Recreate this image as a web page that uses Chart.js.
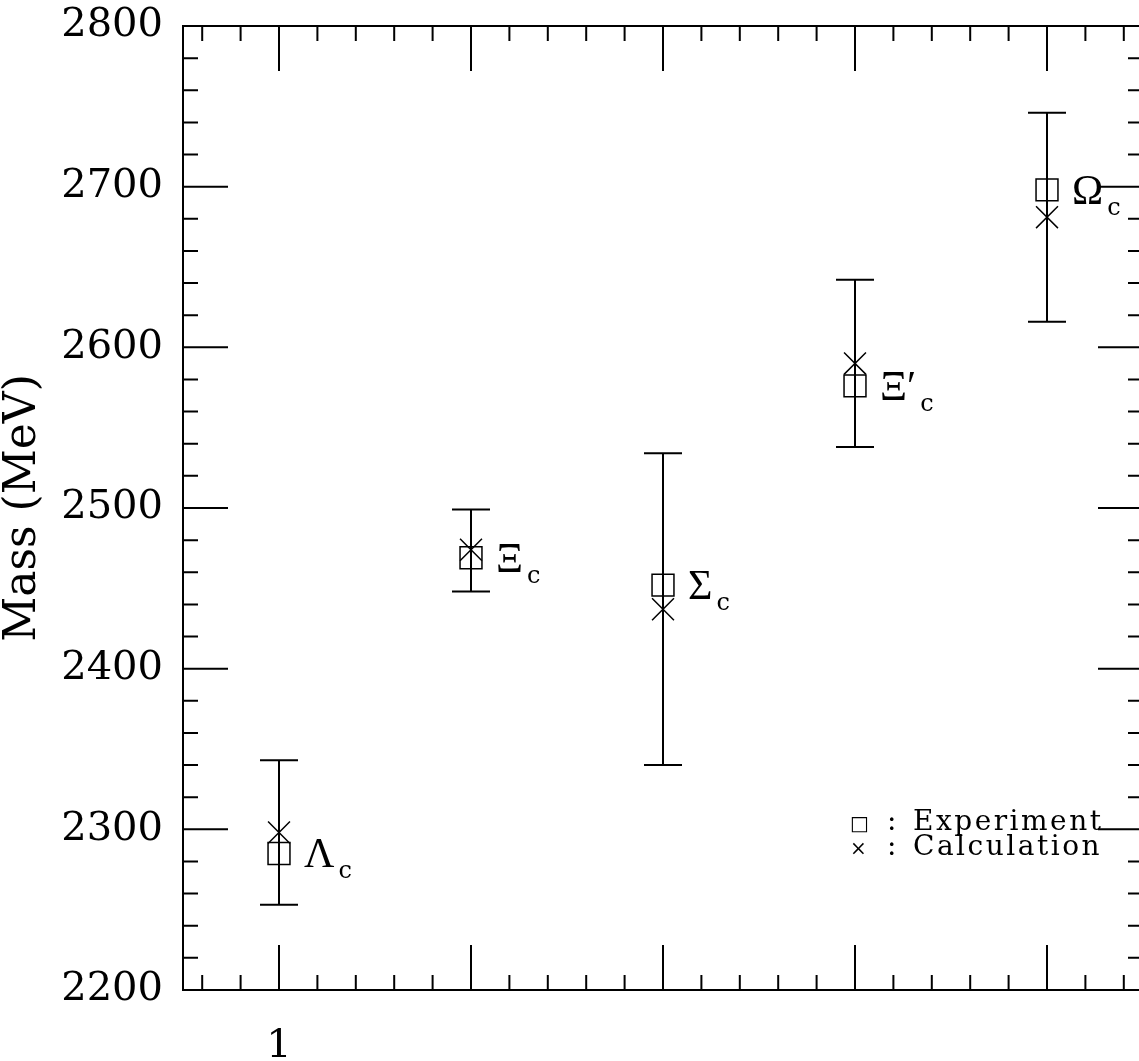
<!DOCTYPE html>
<html>
<head>
<meta charset="utf-8">
<script src="https://cdn.jsdelivr.net/npm/chart.js@4.4.1/dist/chart.umd.min.js"></script>
<style>
  html, body { margin: 0; padding: 0; background: #fff; overflow: hidden; }
  #wrap { position: relative; width: 1160px; height: 1061px; }
</style>
</head>
<body>
<div id="wrap"><canvas id="chart"></canvas></div>
<script>
// charmed baryons, x = position index
const positions = [1, 2, 3, 4, 5];
const particles = ['Λ', 'Ξ', 'Σ', 'Ξ′', 'Ω'];
const experiment = [2285, 2469, 2452, 2576, 2698];
const calculation = [2298, 2474, 2437, 2590, 2681];
const errLow = [2253, 2448, 2340, 2538, 2616];
const errHigh = [2343, 2499, 2534, 2642, 2746];
const xTickLabels = ['1', '', '', '', ''];
const legendItems = [['□', 'Experiment'], ['×', 'Calculation']];

const FONT = '"DejaVu Serif", "Liberation Serif", serif';
const GREEK = '"Liberation Serif", "DejaVu Serif", serif';

// frame with inward ticks on all four sides, plus error bars
const framePlugin = {
    id: 'frame',
    beforeDatasetsDraw(chart) {
        const { ctx, chartArea: a, scales: { x, y } } = chart;
        ctx.save();
        ctx.strokeStyle = '#000';
        ctx.lineWidth = 2;
        ctx.lineCap = 'butt';
        ctx.strokeRect(a.left, a.top, a.right - a.left, a.bottom - a.top);

        ctx.beginPath();
        // x ticks every 0.2, major at integers
        for (let k = 3; k <= 27; k++) {
            const px = x.getPixelForValue(k / 5);
            const len = k % 5 === 0 ? 45 : 15;
            ctx.moveTo(px, a.bottom); ctx.lineTo(px, a.bottom - len);
            ctx.moveTo(px, a.top); ctx.lineTo(px, a.top + len);
        }
        // y ticks every 20, major every 100
        for (let v = 2220; v < 2800; v += 20) {
            const py = y.getPixelForValue(v);
            const len = v % 100 === 0 ? 45 : 15;
            ctx.moveTo(a.left, py); ctx.lineTo(a.left + len, py);
            ctx.moveTo(a.right, py); ctx.lineTo(a.right - len, py);
        }
        ctx.stroke();

        // error bars on the calculation
        ctx.beginPath();
        positions.forEach((p, i) => {
            const px = x.getPixelForValue(p);
            const top = y.getPixelForValue(errHigh[i]);
            const bot = y.getPixelForValue(errLow[i]);
            ctx.moveTo(px, top); ctx.lineTo(px, bot);
            ctx.moveTo(px - 19, top); ctx.lineTo(px + 19, top);
            ctx.moveTo(px - 19, bot); ctx.lineTo(px + 19, bot);
        });
        ctx.stroke();
        ctx.restore();
    },
    afterDatasetsDraw(chart) {
        const { ctx, chartArea: a, scales: { x, y } } = chart;
        ctx.save();
        ctx.fillStyle = '#000';
        ctx.textAlign = 'left';
        ctx.textBaseline = 'alphabetic';
        particles.forEach((name, i) => {
            const px = x.getPixelForValue(positions[i]) + 25;
            const py = y.getPixelForValue(experiment[i]);
            ctx.font = '42px ' + GREEK;
            ctx.fillText(name, px, py + 14);
            const w = ctx.measureText(name).width;
            ctx.font = '24px ' + FONT;
            ctx.fillText('c', px + w + 4, py + 25);
        });

        // legend in the lower right
        legendItems.forEach(([sym, label], i) => {
            const by = a.top + 804 + i * 25;
            ctx.letterSpacing = '0px';
            ctx.font = '20px ' + FONT;
            ctx.fillText(sym, a.left + 667, by);
            ctx.font = '28px ' + FONT;
            ctx.fillText(':', a.left + 704, by);
            ctx.letterSpacing = '2.5px';
            ctx.fillText(label, a.left + 730, by);
        });
        ctx.restore();
    }
};

Chart.defaults.color = '#000';

new Chart(document.getElementById('chart'), {
    type: 'scatter',
    data: {
        datasets: [
            {
                label: 'Experiment',
                data: positions.map((p, i) => ({ x: p, y: experiment[i] })),
                pointStyle: 'rect',
                pointRadius: 15.5,
                borderColor: '#000',
                backgroundColor: 'rgba(0,0,0,0)',
                borderWidth: 1.5
            },
            {
                label: 'Calculation',
                data: positions.map((p, i) => ({ x: p, y: calculation[i] })),
                pointStyle: 'crossRot',
                pointRadius: 15.5,
                borderColor: '#000',
                backgroundColor: '#000',
                borderWidth: 1.5
            }
        ]
    },
    options: {
        responsive: true,
        maintainAspectRatio: false,
        animation: false,
        layout: { padding: { top: 26, right: 12, left: 0, bottom: 0 } },
        plugins: {
            legend: { display: false },
            tooltip: { enabled: false }
        },
        scales: {
            x: {
                type: 'linear',
                min: 0.5,
                max: 5.5,
                grid: { display: false },
                border: { display: false },
                afterBuildTicks: (scale) => { scale.ticks = positions.map(v => ({ value: v })); },
                afterFit: (scale) => { scale.height = 71; },
                ticks: {
                    autoSkip: false,
                    maxRotation: 0,
                    padding: 25,
                    font: { family: FONT, size: 40 },
                    callback: (v, i) => xTickLabels[i]
                }
            },
            y: {
                min: 2200,
                max: 2800,
                grid: { display: false },
                border: { display: false },
                afterFit: (scale) => { scale.width = 183; },
                ticks: {
                    stepSize: 100,
                    padding: 12,
                    font: { family: FONT, size: 40, lineHeight: 0.25 },
                    callback: (v) => String(v)
                },
                title: {
                    display: true,
                    text: 'Mass (MeV)',
                    padding: { top: 2, bottom: 0 },
                    font: { family: FONT, size: 44, lineHeight: 1 }
                }
            }
        }
    },
    plugins: [framePlugin]
});
</script>
</body>
</html>
